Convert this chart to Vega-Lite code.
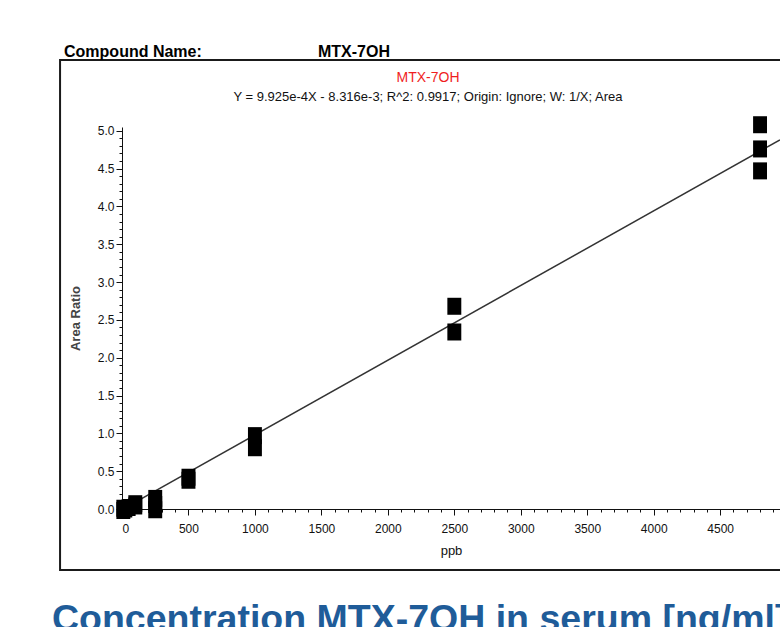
{
  "$schema": "https://vega.github.io/schema/vega-lite/v6.json",
  "width": 658,
  "height": 382,
  "autosize": "none",
  "padding": {"left": 122, "top": 127, "right": 0, "bottom": 118},
  "background": "white",
  "config": {
    "view": {"stroke": null},
    "font": "Liberation Sans Narrow, Arial Narrow, Liberation Sans",
    "axis": {"grid": false, "domainColor": "#111", "tickColor": "#111", "labelColor": "#111", "labelFontSize": 12, "domainWidth": 1, "tickWidth": 1}
  },
  "datasets": {
    "pts": [
      {"ppb": 10, "ratio": -0.02},
      {"ppb": 10, "ratio": 0.01},
      {"ppb": 25, "ratio": 0.0},
      {"ppb": 50, "ratio": 0.02},
      {"ppb": 100, "ratio": 0.04},
      {"ppb": 100, "ratio": 0.07},
      {"ppb": 250, "ratio": -0.01},
      {"ppb": 250, "ratio": 0.06},
      {"ppb": 250, "ratio": 0.14},
      {"ppb": 500, "ratio": 0.38},
      {"ppb": 500, "ratio": 0.42},
      {"ppb": 1000, "ratio": 0.81},
      {"ppb": 1000, "ratio": 0.97},
      {"ppb": 2500, "ratio": 2.34},
      {"ppb": 2500, "ratio": 2.68},
      {"ppb": 4800, "ratio": 4.47},
      {"ppb": 4800, "ratio": 4.76},
      {"ppb": 4800, "ratio": 5.08}
    ],
    "fit": [
      {"ppb": 0, "ratio": -0.008},
      {"ppb": 4950, "ratio": 4.88}
    ],
    "labels": [
      {"label": "Compound Name:", "kind": "head1"},
      {"label": "MTX-7OH", "kind": "head2"},
      {"label": "MTX-7OH", "kind": "plotTitle"},
      {"label": "Y = 9.925e-4X - 8.316e-3; R^2: 0.9917; Origin: Ignore; W: 1/X; Area", "kind": "equation"},
      {"label": "Concentration MTX-7OH in serum [ng/ml]", "kind": "foot"}
    ]
  },
  "resolve": {"axis": {"x": "independent", "y": "independent"}},
  "layer": [
    {
      "data": {"values": [{}]},
      "mark": {"type": "rect", "fill": null, "stroke": "#1a1a1a", "strokeWidth": 2},
      "encoding": {
        "x": {"datum": -466, "type": "quantitative", "axis": null},
        "x2": {"datum": 6000},
        "y": {"datum": -0.806, "type": "quantitative", "axis": null},
        "y2": {"datum": 5.936}
      }
    },
    {
      "data": {"name": "fit"},
      "mark": {"type": "line", "color": "#333", "strokeWidth": 1.5},
      "encoding": {
        "x": {"field": "ppb", "type": "quantitative",
          "axis": {"orient": "bottom", "values": [0,100,200,300,400,500,600,700,800,900,1000,1100,1200,1300,1400,1500,1600,1700,1800,1900,2000,2100,2200,2300,2400,2500,2600,2700,2800,2900,3000,3100,3200,3300,3400,3500,3600,3700,3800,3900,4000,4100,4200,4300,4400,4500,4600,4700,4800,4900], "labels": false, "domain": false, "tickSize": 3, "title": null}},
        "y": {"field": "ratio", "type": "quantitative",
          "axis": {"orient": "left", "values": [0,0.1,0.2,0.3,0.4,0.5,0.6,0.7,0.8,0.9,1,1.1,1.2,1.3,1.4,1.5,1.6,1.7,1.8,1.9,2,2.1,2.2,2.3,2.4,2.5,2.6,2.7,2.8,2.9,3,3.1,3.2,3.3,3.4,3.5,3.6,3.7,3.8,3.9,4,4.1,4.2,4.3,4.4,4.5,4.6,4.7,4.8,4.9,5], "labels": false, "domain": false, "tickSize": 3, "title": null}}
      }
    },
    {
      "data": {"name": "pts"},
      "mark": {"type": "point", "filled": true, "color": "#000", "opacity": 1, "shape": "M-0.82,-1H0.82V1H-0.82Z", "size": 289},
      "encoding": {
        "x": {"field": "ppb", "type": "quantitative",
          "scale": {"domain": [0, 4950], "nice": false, "zero": false},
          "axis": {"orient": "bottom", "values": [0,500,1000,1500,2000,2500,3000,3500,4000,4500], "format": "d", "tickSize": 6, "labelPadding": 8, "title": "ppb", "titleFontSize": 13, "titleFontWeight": "normal", "titleColor": "#111", "titlePadding": 10, "titleX": 329}},
        "y": {"field": "ratio", "type": "quantitative",
          "scale": {"domain": [0, 5.05], "nice": false, "zero": false},
          "axis": {"orient": "left", "values": [0,0.5,1,1.5,2,2.5,3,3.5,4,4.5,5], "format": ".1f", "tickSize": 6, "labelPadding": 2, "title": "Area Ratio", "titleFontSize": 13, "titleFontWeight": "bold", "titleColor": "#444", "titlePadding": 15}}
      }
    },
    {
      "data": {"name": "labels"},
      "transform": [{"filter": "datum.kind === 'head1'"}],
      "mark": {"type": "text", "align": "left", "baseline": "alphabetic", "fontSize": 16, "fontWeight": "bold", "color": "#000"},
      "encoding": {
        "text": {"field": "label"},
        "x": {"datum": -436, "type": "quantitative", "axis": null},
        "y": {"datum": 5.975, "type": "quantitative", "axis": null}
      }
    },
    {
      "data": {"name": "labels"},
      "transform": [{"filter": "datum.kind === 'head2'"}],
      "mark": {"type": "text", "align": "left", "baseline": "alphabetic", "fontSize": 16, "fontWeight": "bold", "color": "#000"},
      "encoding": {
        "text": {"field": "label"},
        "x": {"datum": 1474, "type": "quantitative", "axis": null},
        "y": {"datum": 5.975, "type": "quantitative", "axis": null}
      }
    },
    {
      "data": {"name": "labels"},
      "transform": [{"filter": "datum.kind === 'plotTitle'"}],
      "mark": {"type": "text", "align": "center", "baseline": "alphabetic", "fontSize": 14, "color": "#f01e1e"},
      "encoding": {
        "text": {"field": "label"},
        "x": {"datum": 2302, "type": "quantitative", "axis": null},
        "y": {"datum": 5.645, "type": "quantitative", "axis": null}
      }
    },
    {
      "data": {"name": "labels"},
      "transform": [{"filter": "datum.kind === 'equation'"}],
      "mark": {"type": "text", "align": "center", "baseline": "alphabetic", "fontSize": 13, "color": "#111"},
      "encoding": {
        "text": {"field": "label"},
        "x": {"datum": 2302, "type": "quantitative", "axis": null},
        "y": {"datum": 5.394, "type": "quantitative", "axis": null}
      }
    },
    {
      "data": {"name": "labels"},
      "transform": [{"filter": "datum.kind === 'foot'"}],
      "mark": {"type": "text", "align": "left", "baseline": "alphabetic", "fontSize": 37.5, "fontWeight": "bold", "color": "#1f5c99", "font": "Liberation Sans, Arial"},
      "encoding": {
        "text": {"field": "label"},
        "x": {"datum": -527, "type": "quantitative", "axis": null},
        "y": {"datum": -1.613, "type": "quantitative", "axis": null}
      }
    }
  ]
}
